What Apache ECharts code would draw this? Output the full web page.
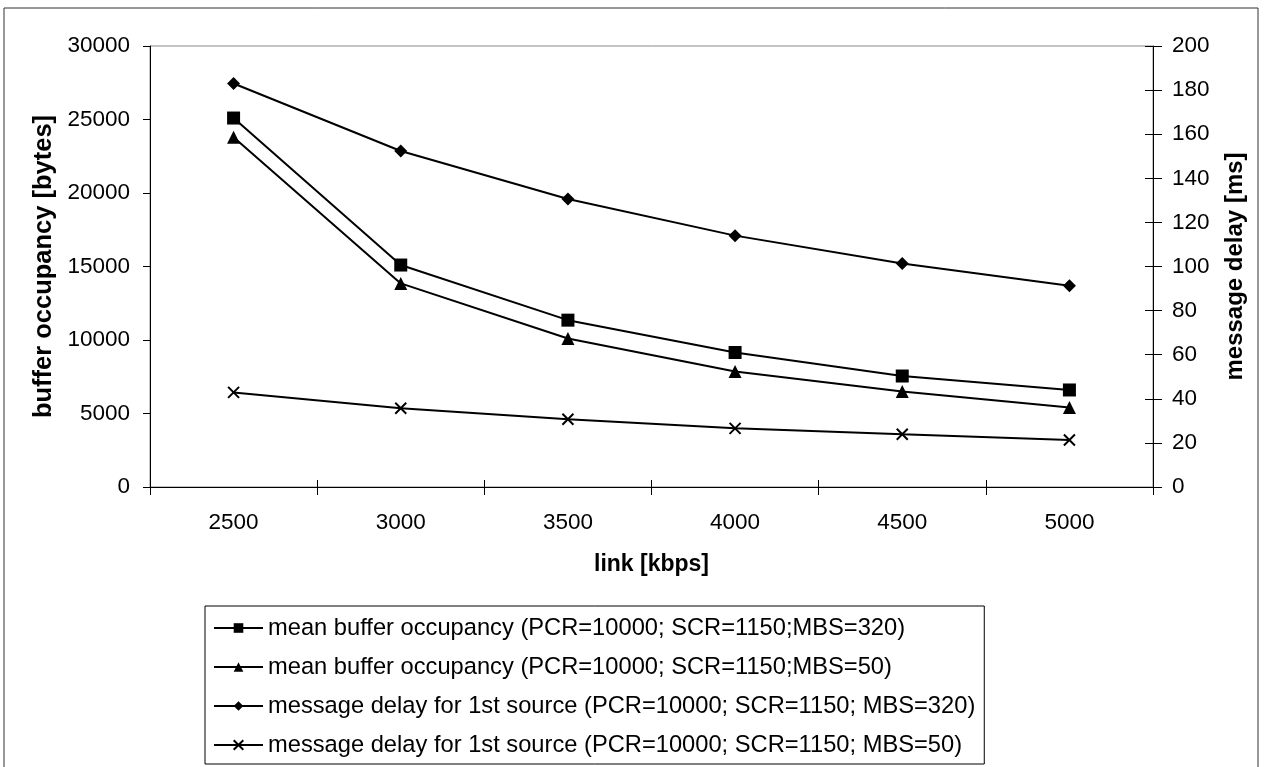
<!DOCTYPE html>
<html>
<head>
<meta charset="utf-8">
<script src="https://cdn.jsdelivr.net/npm/echarts@6/dist/echarts.min.js"></script>
<style>
html,body{margin:0;padding:0;background:#fff;}
#chart{width:1268px;height:767px;}
</style>
</head>
<body>
<div id="chart"></div>
<script>
const categories = ['2500', '3000', '3500', '4000', '4500', '5000'];
const bufferMBS320 = [25100, 15100, 11350, 9150, 7550, 6600];
const bufferMBS50 = [23800, 13850, 10100, 7850, 6500, 5400];
const delayMBS320 = [183, 152.4, 130.6, 114, 101.4, 91.3];
const delayMBS50 = [42.9, 35.7, 30.7, 26.6, 23.9, 21.3];
const seriesNames = [
  'mean buffer occupancy (PCR=10000; SCR=1150;MBS=320)',
  'mean buffer occupancy (PCR=10000; SCR=1150;MBS=50)',
  'message delay for 1st source (PCR=10000; SCR=1150; MBS=320)',
  'message delay for 1st source (PCR=10000; SCR=1150; MBS=50)'
];

const FONT = '"Liberation Sans", Arial, sans-serif';
const chart = echarts.init(document.getElementById('chart'), null, {renderer: 'canvas'});
const crossPath = 'path://M0,0L10,10M10,0L0,10';
const plain = function (v) { return String(v); };

function lineSeries(name, data, yIdx, symbol, size, extra) {
  return Object.assign({
    name: name,
    type: 'line',
    data: data,
    yAxisIndex: yIdx,
    xAxisIndex: 0,
    symbol: symbol,
    symbolSize: size,
    showAllSymbol: true,
    animation: false,
    lineStyle: {color: '#000', width: 2},
    itemStyle: {color: '#000'}
  }, extra || {});
}

chart.setOption({
  backgroundColor: '#fff',
  animation: false,
  textStyle: {fontFamily: FONT},
  graphic: [{
    type: 'rect',
    shape: {x: 4, y: 8, width: 1254, height: 770},
    style: {fill: 'none', stroke: '#333', lineWidth: 1},
    silent: true,
    z: -10
  }],
  grid: {
    left: 150, right: 115, top: 46, bottom: 280,
    show: true, borderColor: '#888', borderWidth: 1, backgroundColor: 'transparent'
  },
  legend: {
    orient: 'vertical',
    left: 205, top: 606,
    padding: [10, 9, 7, 8],
    itemWidth: 49, itemHeight: 12, itemGap: 15,
    borderColor: '#000', borderWidth: 1,
    textStyle: {fontFamily: FONT, fontSize: 23.7, color: '#000', lineHeight: 24},
    data: seriesNames
  },
  xAxis: [{
    type: 'category',
    data: categories,
    boundaryGap: true,
    position: 'bottom',
    name: 'link [kbps]',
    nameLocation: 'middle',
    nameGap: 66,
    nameTextStyle: {fontFamily: FONT, fontSize: 23, fontWeight: 'bold', color: '#000'},
    axisLine: {lineStyle: {color: '#000', width: 1}},
    axisTick: {show: true, length: 8, alignWithLabel: false, lineStyle: {color: '#000'}},
    axisLabel: {fontFamily: FONT, fontSize: 22.5, color: '#000', margin: 24},
    splitLine: {show: false}
  }, {
    type: 'category',
    data: categories,
    boundaryGap: true,
    position: 'bottom',
    axisLine: {show: false},
    axisTick: {show: true, inside: true, length: 7, lineStyle: {color: '#000'}},
    axisLabel: {show: false},
    splitLine: {show: false}
  }],
  yAxis: [{
    type: 'value',
    min: 0, max: 30000, interval: 5000,
    position: 'left',
    name: 'buffer occupancy [bytes]',
    nameLocation: 'middle',
    nameGap: 82,
    nameRotate: 90,
    nameTextStyle: {fontFamily: FONT, fontSize: 25.5, fontWeight: 'bold', color: '#000'},
    axisLine: {show: true, lineStyle: {color: '#000', width: 1}},
    axisTick: {show: true, length: 7, lineStyle: {color: '#000'}},
    axisLabel: {fontFamily: FONT, fontSize: 22.5, color: '#000', margin: 20, formatter: plain},
    splitLine: {show: false}
  }, {
    type: 'value',
    min: 0, max: 200, interval: 20,
    position: 'right',
    name: 'message delay [ms]',
    nameLocation: 'middle',
    nameGap: 70,
    nameRotate: 90,
    nameTextStyle: {fontFamily: FONT, fontSize: 24, fontWeight: 'bold', color: '#000'},
    axisLine: {show: true, lineStyle: {color: '#000', width: 1}},
    axisTick: {show: true, length: 9, lineStyle: {color: '#000'}},
    axisLabel: {fontFamily: FONT, fontSize: 22.5, color: '#000', margin: 19, formatter: plain},
    splitLine: {show: false}
  }, {
    type: 'value',
    min: 0, max: 200, interval: 20,
    position: 'right',
    axisLine: {show: false},
    axisTick: {show: true, inside: true, length: 8, lineStyle: {color: '#000'}},
    axisLabel: {show: false},
    splitLine: {show: false}
  }],
  series: [
    lineSeries(seriesNames[0], bufferMBS320, 0, 'rect', 13),
    lineSeries(seriesNames[1], bufferMBS50, 0, 'triangle', 13),
    lineSeries(seriesNames[2], delayMBS320, 1, 'diamond', 13),
    lineSeries(seriesNames[3], delayMBS50, 1, crossPath, 11, {
      itemStyle: {color: 'none', borderColor: '#000', borderWidth: 2}
    })
  ]
});
</script>
</body>
</html>
